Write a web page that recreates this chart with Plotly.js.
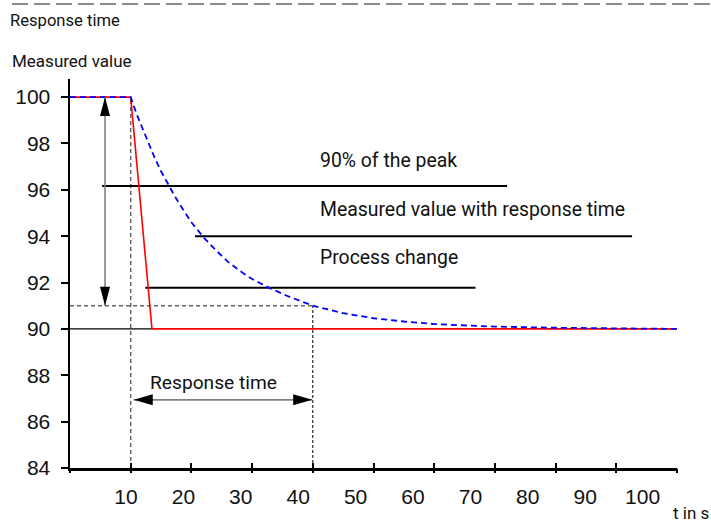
<!DOCTYPE html>
<html>
<head>
<meta charset="utf-8">
<script src="https://cdn.plot.ly/plotly-3.0.1.min.js"></script>
<style>
  html, body { margin: 0; padding: 0; background: #fff; }
  #chart { width: 711px; height: 526px; }
</style>
</head>
<body>
<div id="chart"></div>
<script>
// ---- data ----
const xTicks = [0, 10, 20, 30, 40, 50, 60, 70, 80, 90, 100];
const xTickLabels = ['10', '20', '30', '40', '50', '60', '70', '80', '90', '100'];
const xTickLabelVals = [10, 20, 30, 40, 50, 60, 70, 80, 90, 100];
const yTicks = [84, 86, 88, 90, 92, 94, 96, 98, 100];

// Process change (red)
const processTime = [0, 10, 13.5, 100];
const processValue = [100, 100, 90, 90];

// Measured value with response time (blue dashed)
const measuredTime = [0, 10, 11, 12, 13, 14, 15, 16, 17, 18, 19, 20, 22, 24, 26, 28, 30, 33, 36, 40, 45, 50, 55, 60, 65, 70, 80, 90, 100];
const measuredValue = [100, 100, 99.25, 98.6, 97.95, 97.35, 96.8, 96.3, 95.85, 95.4, 95.0, 94.6, 93.95, 93.4, 92.9, 92.5, 92.15, 91.75, 91.4, 91.0, 90.68, 90.46, 90.32, 90.21, 90.15, 90.1, 90.05, 90.02, 90.0];

// Label leader lines
const peakLineX = [5.3, 72];
const peakLineY = [96.16, 96.16];
const measLineX = [20.6, 92.6];
const measLineY = [94.0, 94.0];
const procLineX = [12.4, 66.8];
const procLineY = [91.77, 91.77];
const baseLineX = [0, 13.5];
const baseLineY = [90, 90];

// Reference values
const responseStart = 10;
const responseEnd = 40;
const level90 = 91;
const peakValue = 100;
const vArrowX = 5.77;
const hArrowY = 86.94;
const hArrowX = [10.5, 39.9];

const labelTexts = ['90% of the peak', 'Measured value with response time', 'Process change'];
const labelY = [97.28, 95.13, 93.06];
const labelX = 40.9;

const NARROW = 'Roboto, "Liberation Sans", sans-serif';
const SANS = '"Liberation Sans", Arial, sans-serif';

const traces = [
  { x: baseLineX, y: baseLineY, mode: 'lines', line: {color: '#000', width: 1.2}, hoverinfo: 'skip', showlegend: false },
  { x: peakLineX, y: peakLineY, mode: 'lines', line: {color: '#000', width: 2}, hoverinfo: 'skip', showlegend: false },
  { x: measLineX, y: measLineY, mode: 'lines', line: {color: '#000', width: 2}, hoverinfo: 'skip', showlegend: false },
  { x: procLineX, y: procLineY, mode: 'lines', line: {color: '#000', width: 2}, hoverinfo: 'skip', showlegend: false },
  { x: processTime, y: processValue, mode: 'lines', line: {color: '#ff0000', width: 1.6}, name: 'Process change', showlegend: false },
  { x: measuredTime, y: measuredValue, mode: 'lines', line: {color: '#0000ff', width: 1.8, dash: '6px,4px'}, name: 'Measured value', showlegend: false },
  // helper traces so the overlay axes are drawn
  { x: [], y: [], xaxis: 'x2', yaxis: 'y', mode: 'lines', showlegend: false, hoverinfo: 'skip' },
  { x: [], y: [], xaxis: 'x3', yaxis: 'y', mode: 'lines', showlegend: false, hoverinfo: 'skip' }
];

function head(xv, yv, path) {
  return { type: 'path', xref: 'x', yref: 'y', xsizemode: 'pixel', ysizemode: 'pixel',
           xanchor: xv, yanchor: yv, path: path, fillcolor: '#000', line: {width: 0} };
}

const shapes = [
  // top separator
  { type: 'line', xref: 'paper', yref: 'paper', x0: (12 - 70) / 607, x1: (711 - 70) / 607,
    y0: (468 - 4) / 389, y1: (468 - 4) / 389, line: {color: '#666', width: 1.3, dash: '16px,6px'} },
  // dashed reference lines
  { type: 'line', xref: 'x', yref: 'y', x0: responseStart, x1: responseStart, y0: 84, y1: peakValue,
    line: {color: '#666', width: 1.5, dash: '4px,3px'}, layer: 'below' },
  { type: 'line', xref: 'x', yref: 'y', x0: 0, x1: responseEnd, y0: level90, y1: level90,
    line: {color: '#666', width: 1.5, dash: '4px,3px'}, layer: 'below' },
  { type: 'line', xref: 'x', yref: 'y', x0: responseEnd, x1: responseEnd, y0: 84, y1: level90,
    line: {color: '#000', width: 1, dash: '3px,2px'}, layer: 'below' },
  // vertical arrow shaft
  { type: 'line', xref: 'x', yref: 'y', x0: vArrowX, x1: vArrowX, y0: level90, y1: peakValue,
    line: {color: '#808080', width: 1.6} },
  head(vArrowX, peakValue, 'M0,0 L-5,-19 L5,-19 Z'),
  head(vArrowX, level90, 'M0,0 L-5,19 L5,19 Z'),
  // horizontal arrow shaft
  { type: 'line', xref: 'x', yref: 'y', x0: hArrowX[0], x1: hArrowX[1], y0: hArrowY, y1: hArrowY,
    line: {color: '#808080', width: 1.6} },
  head(hArrowX[0], hArrowY, 'M0,0 L19,-5.5 L19,5.5 Z'),
  head(hArrowX[1], hArrowY, 'M0,0 L-19,-5.5 L-19,5.5 Z')
];

const annotations = [
  { text: 'Measured value', xref: 'paper', yref: 'paper', x: (10 - 70) / 607, y: (468 - 61) / 389,
    xanchor: 'left', yanchor: 'middle', showarrow: false, font: {family: NARROW, size: 17, color: '#111'} },
  { text: 'Response time', xref: 'x', yref: 'y', x: 23.7, y: 87.7, xanchor: 'center', yanchor: 'middle',
    showarrow: false, font: {family: NARROW, size: 19.2, color: '#111'} },
  { text: 't in s', xref: 'paper', yref: 'paper', x: (671 - 70) / 607, y: (468 - 513) / 389,
    xanchor: 'left', yanchor: 'middle', showarrow: false, font: {family: NARROW, size: 17, color: '#111'} }
];
labelTexts.forEach((t, i) => {
  annotations.push({ text: t, xref: 'x', yref: 'y', x: labelX, y: labelY[i], xanchor: 'left', yanchor: 'middle',
    showarrow: false, font: {family: NARROW, size: 19.4, color: '#111'} });
});

const layout = {
  width: 711, height: 526,
  margin: {l: 70, r: 34, t: 79, b: 58, pad: 0},
  paper_bgcolor: '#fff', plot_bgcolor: '#fff',
  showlegend: false,
  title: { text: 'Response time', xref: 'container', yref: 'container', x: 10 / 711, y: 1 - 20.5 / 526,
           xanchor: 'left', yanchor: 'middle', font: {family: NARROW, size: 16.6, color: '#111'} },
  xaxis: { range: [0, 100], tickvals: xTicks, showticklabels: false, ticks: 'inside', ticklen: 5, tickwidth: 2,
           tickcolor: '#000', showline: true, linewidth: 2.5, linecolor: '#000', showgrid: false, zeroline: false,
           fixedrange: true },
  xaxis3: { overlaying: 'x', anchor: 'y', range: [0, 100], tickvals: xTicks, showticklabels: false, ticks: 'outside',
            ticklen: 4, tickwidth: 2, tickcolor: '#000', showline: false, showgrid: false, zeroline: false },
  xaxis2: { overlaying: 'x', anchor: 'y', side: 'bottom', range: [0.244, 106.0], tickvals: xTickLabelVals,
            ticktext: xTickLabels, ticks: '', showline: false, showgrid: false, zeroline: false,
            ticklabelstandoff: 14, tickfont: {family: SANS, size: 21, color: '#111'} },
  yaxis: { range: [84, 100.78], tickvals: yTicks, ticks: 'outside', ticklen: 7, tickwidth: 2, tickcolor: '#000',
           showline: true, linewidth: 2.5, linecolor: '#000', showgrid: false, zeroline: false,
           tickfont: {family: SANS, size: 21, color: '#111'}, ticklabelstandoff: 6 },
  shapes: shapes,
  annotations: annotations
};

Plotly.newPlot('chart', traces, layout, {displayModeBar: false, staticPlot: true});
</script>
</body>
</html>
